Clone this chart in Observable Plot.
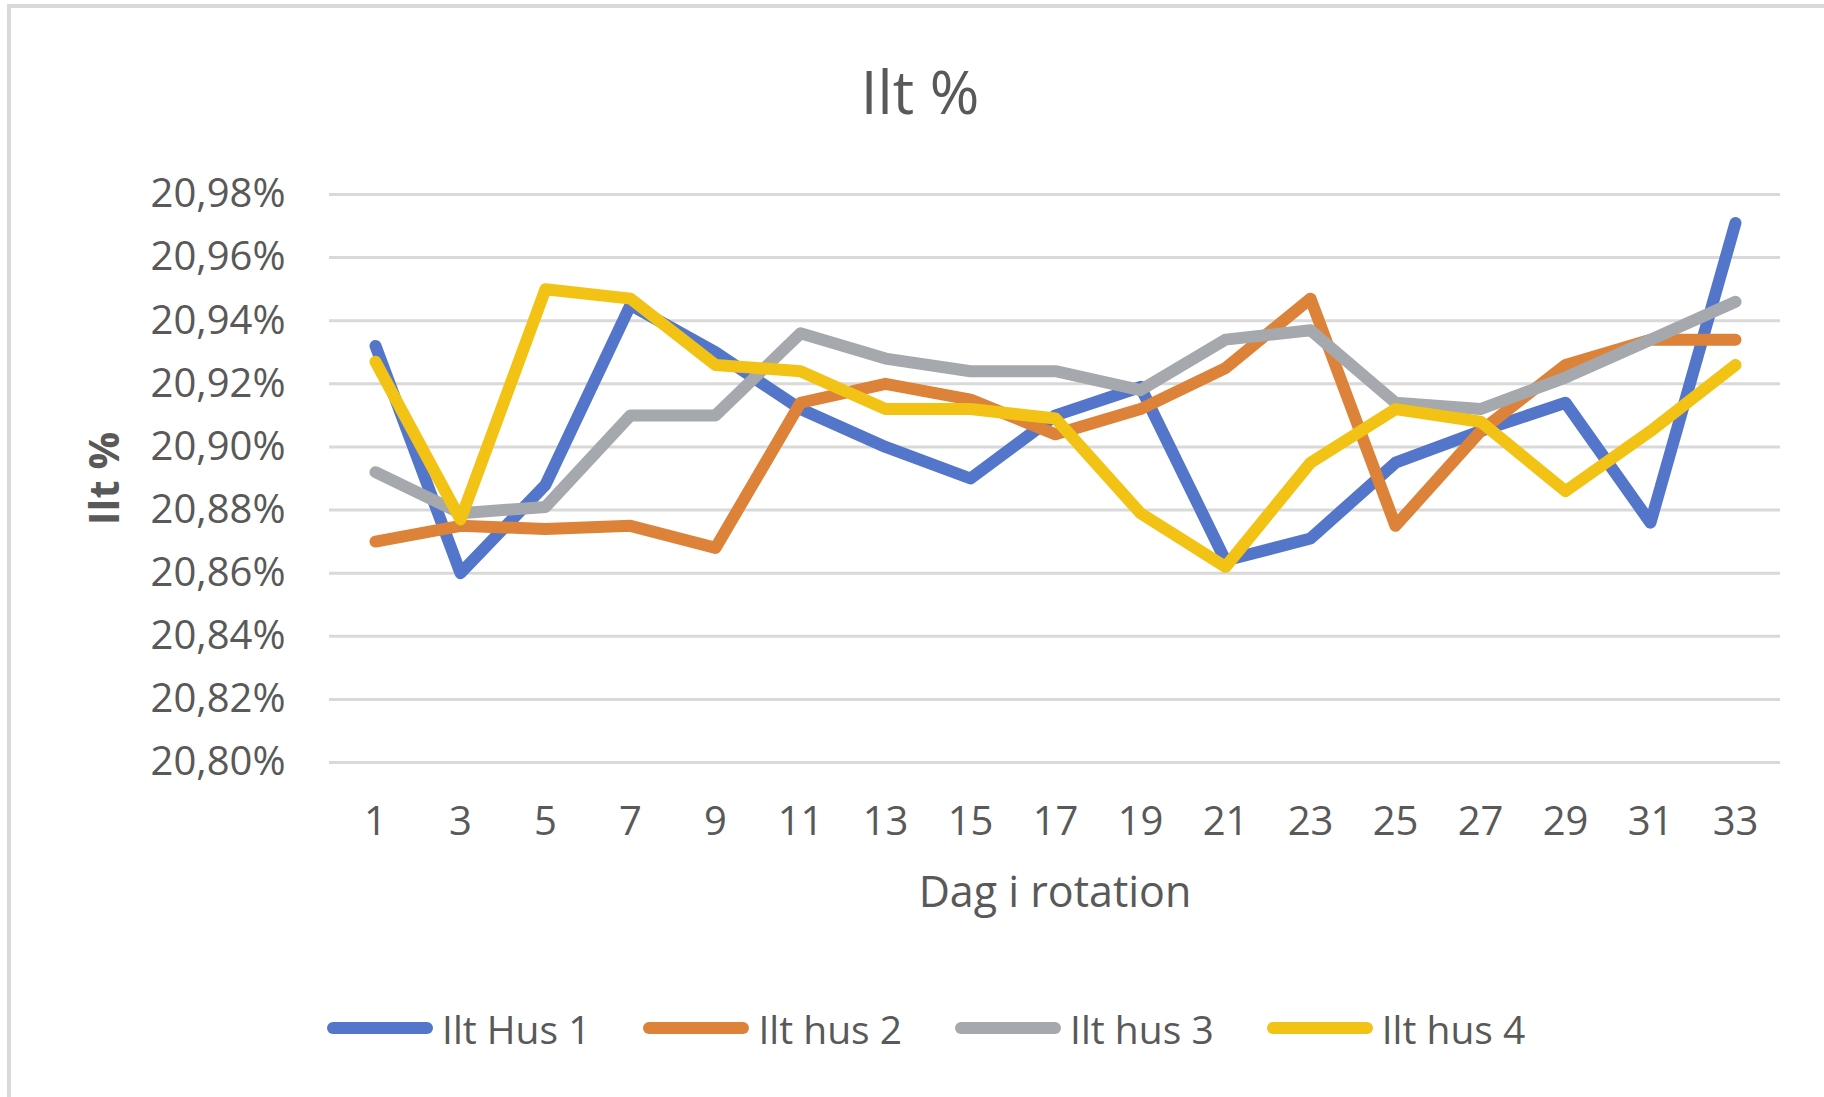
<!DOCTYPE html>
<html>
<head>
<meta charset="utf-8">
<script src="https://cdn.jsdelivr.net/npm/d3@7"></script>
<script src="https://cdn.jsdelivr.net/npm/@observablehq/plot@0.6"></script>
<style>
  html, body { margin: 0; padding: 0; background: #fff; overflow: hidden; width: 1824px; height: 1097px; }
  body { position: relative; font-family: "Open Sans", sans-serif; color: #595959; }
  #frame { position: absolute; left: 7px; top: 4px; width: 2000px; height: 1200px; border-left: 4px solid #d9d9d9; border-top: 4px solid #d9d9d9; pointer-events: none; }
  #title { position: absolute; left: 0; top: 0; width: 1824px; height: 150px; box-sizing: border-box; padding-left: 16px; text-align: center; font-size: 60px; line-height: 182px; color: #595959; }
  #chart { position: absolute; left: 0; top: 150px; }
  #legend { position: absolute; left: 327px; top: 998px; height: 60px; display: flex; align-items: center; font-size: 39px; color: #595959; white-space: nowrap; }
  .item { display: flex; align-items: center; margin-right: 53px; }
  .sw { width: 106px; height: 12px; border-radius: 6px; margin-right: 9px; }
</style>
</head>
<body>
<div id="title"></div>
<div id="chart"></div>
<div id="legend"></div>
<div id="frame"></div>
<script>
const titleText = "Ilt %";
const xTitle = "Dag i rotation";
const yTitle = "Ilt %";
const days = [1, 3, 5, 7, 9, 11, 13, 15, 17, 19, 21, 23, 25, 27, 29, 31, 33];
const seriesNames = ["Ilt Hus 1", "Ilt hus 2", "Ilt hus 3", "Ilt hus 4"];
const seriesColors = ["#5375CA", "#DC8339", "#A5A8AC", "#F2C314"];
const hus1 = [20.932, 20.860, 20.888, 20.945, 20.930, 20.912, 20.900, 20.890, 20.910, 20.919, 20.864, 20.871, 20.895, 20.905, 20.914, 20.876, 20.971];
const hus2 = [20.870, 20.875, 20.874, 20.875, 20.868, 20.914, 20.920, 20.915, 20.904, 20.912, 20.925, 20.947, 20.875, 20.905, 20.926, 20.934, 20.934];
const hus3 = [20.892, 20.879, 20.881, 20.910, 20.910, 20.936, 20.928, 20.924, 20.924, 20.918, 20.934, 20.937, 20.914, 20.912, 20.922, 20.934, 20.946];
const hus4 = [20.927, 20.877, 20.950, 20.947, 20.926, 20.924, 20.912, 20.912, 20.909, 20.879, 20.862, 20.895, 20.912, 20.908, 20.886, 20.905, 20.926];
const yTicks = [20.80, 20.82, 20.84, 20.86, 20.88, 20.90, 20.92, 20.94, 20.96, 20.98];

const allSeries = [hus1, hus2, hus3, hus4];
const rows = [];
allSeries.forEach((vals, si) => {
  vals.forEach((v, i) => rows.push({series: seriesNames[si], day: days[i], value: v}));
});

document.getElementById("title").textContent = titleText;

const fmt = d => d.toFixed(2).replace(".", ",") + "%";

const chart = Plot.plot({
  width: 1824,
  height: 830,
  marginLeft: 329,
  marginRight: 44,
  marginTop: 44,
  marginBottom: 218,
  style: { fontFamily: "Open Sans, sans-serif", fontSize: "40px", color: "#595959", background: "white" },
  x: { type: "point", domain: days, padding: 0.5, align: 0.5, tickSize: 0, tickPadding: 44, label: null },
  y: { domain: [20.80, 20.98], ticks: yTicks, tickFormat: fmt, tickSize: 0, tickPadding: 44, label: null },
  color: { domain: seriesNames, range: seriesColors },
  marks: [
    Plot.ruleY(yTicks, { stroke: "#d9d9d9", strokeWidth: 3 }),
    Plot.line(rows, { x: "day", y: "value", z: "series", stroke: "series", strokeWidth: 12, strokeLinejoin: "round", strokeLinecap: "round" }),
    Plot.text([xTitle], { text: d => d, frameAnchor: "bottom", dy: 131, textAnchor: "middle", lineAnchor: "middle", fontSize: 43, fill: "#595959" }),
    Plot.text([yTitle], { text: d => d, frameAnchor: "left", dx: -224, rotate: -90, textAnchor: "middle", lineAnchor: "middle", fontSize: 42, fontWeight: "bold", fill: "#595959" })
  ]
});
document.getElementById("chart").appendChild(chart);

const legend = document.getElementById("legend");
seriesNames.forEach((name, i) => {
  const item = document.createElement("div");
  item.className = "item";
  const sw = document.createElement("div");
  sw.className = "sw";
  sw.style.background = seriesColors[i];
  const lab = document.createElement("span");
  lab.textContent = name;
  item.appendChild(sw);
  item.appendChild(lab);
  legend.appendChild(item);
});
</script>
</body>
</html>
